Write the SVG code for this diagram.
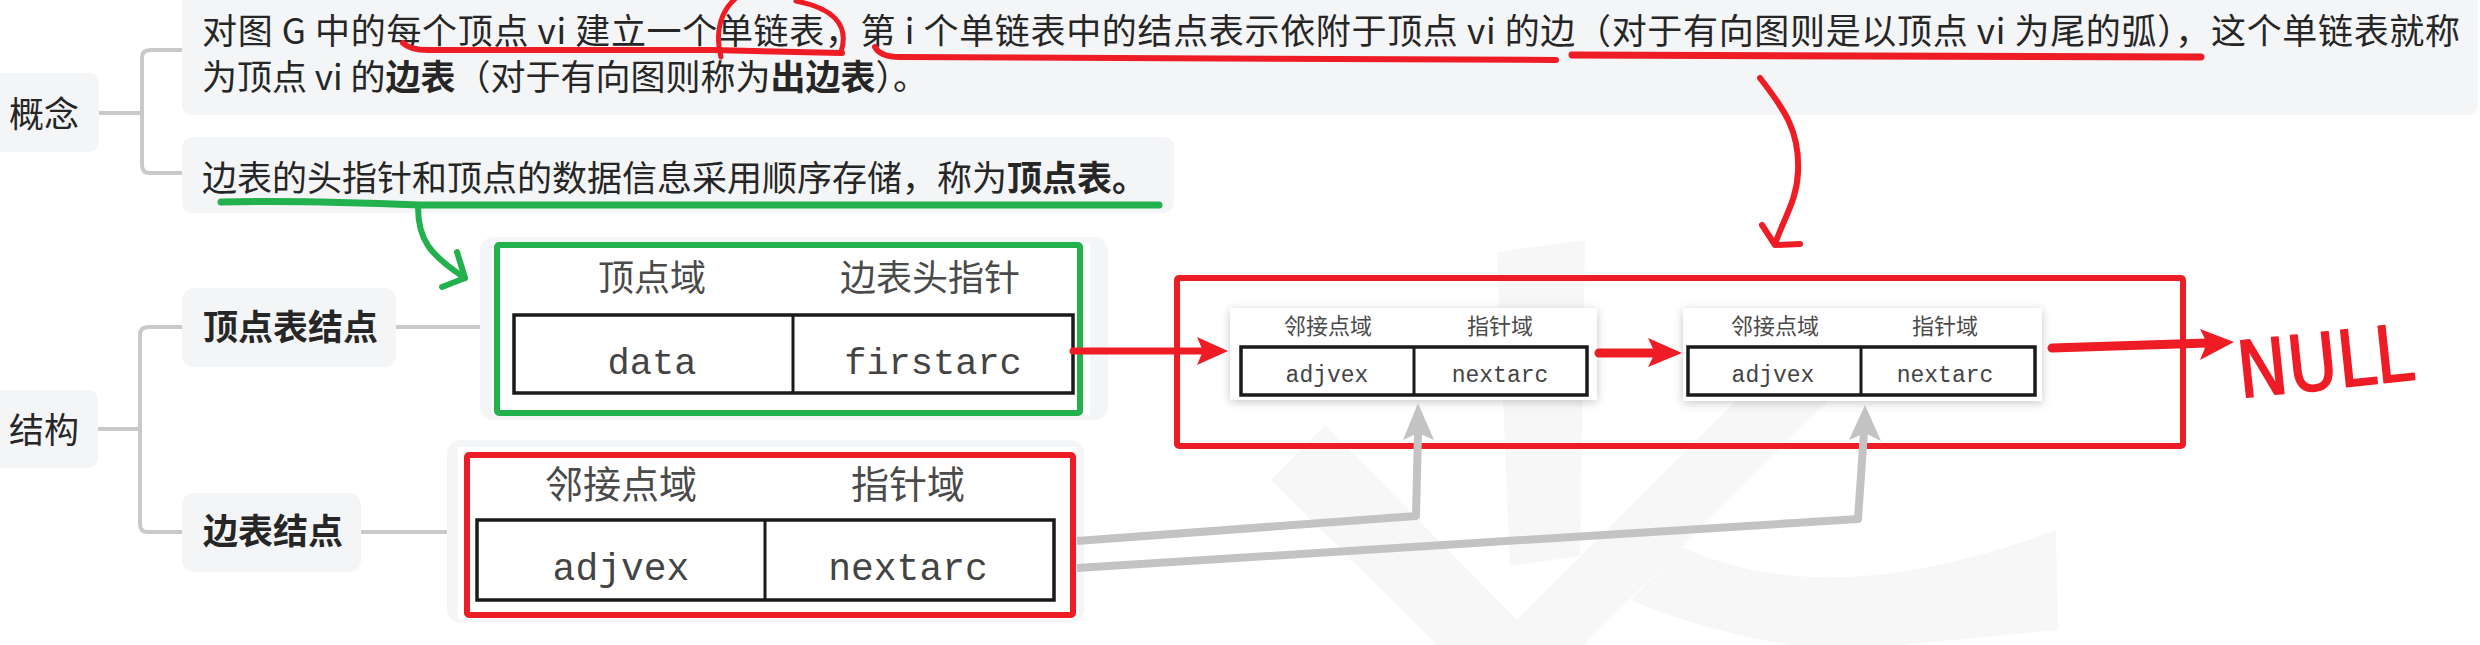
<svg xmlns="http://www.w3.org/2000/svg" width="2480" height="645" viewBox="0 0 2480 645">
<defs>
<style>
.bg{fill:#f4f5f7}
.t{font-family:"Noto Sans CJK SC","Noto Sans",sans-serif;fill:#262626;font-size:35px}
.b{font-weight:bold}
.hd{font-family:"Noto Sans CJK SC",sans-serif;fill:#4a4a4a;text-anchor:middle}
.mono{font-family:"Liberation Mono","DejaVu Sans Mono",monospace;fill:#444;text-anchor:middle}
.tbl{fill:#fff;stroke:#1a1a1a;stroke-width:3.5}
.div{stroke:#1a1a1a;stroke-width:3}
.br{fill:none;stroke:#c9c9c9;stroke-width:4}
.red{fill:none;stroke:#ee1c25;stroke-linecap:round;stroke-linejoin:round}
.redf{fill:#ee1c25}
.grn{fill:none;stroke:#22b14c;stroke-linecap:round;stroke-linejoin:round}
.gry{fill:none;stroke:#c3c3c3;stroke-width:8;stroke-linejoin:round}
.gryf{fill:#c3c3c3}
.wm{fill:#f7f7f7}
</style>
<filter id="sh" x="-10%" y="-20%" width="120%" height="150%">
<feDropShadow dx="0" dy="2" stdDeviation="5" flood-color="#000" flood-opacity="0.22"/>
</filter>
</defs>
<rect width="2480" height="645" fill="#ffffff"/>

<!-- watermark -->
<g id="watermark">
<path class="wm" d="M1497,252 L1585,240 L1580,556 L1510,566 Z"/>
<path class="wm" d="M1325,425 L1517,620 L1807,330 L1899,330 L1584,645 L1437,645 L1271,480 Z"/>
<path class="wm" d="M1682,547 Q1830,615 2056,530 L2058,630 L1900,645 L1790,645 Q1700,630 1631,600 Z"/>
</g>

<!-- concept -->
<g id="concept-label">
<rect class="bg" x="-12" y="73" width="111" height="79" rx="10"/>
<text class="t" x="44" y="127" text-anchor="middle">概念</text>
</g>
<g id="concept-text1">
<rect class="bg" x="182" y="-12" width="2296" height="127" rx="10"/>
<text class="t" x="202" y="44" textLength="2258" lengthAdjust="spacing">对图 G 中的每个顶点 vi 建立一个单链表，第 i 个单链表中的结点表示依附于顶点 vi 的边（对于有向图则是以顶点 vi 为尾的弧），这个单链表就称</text>
<text class="t" x="202" y="90">为顶点 vi 的<tspan class="b">边表</tspan>（对于有向图则称为<tspan class="b">出边表</tspan>）。</text>
</g>
<g id="concept-text2">
<rect class="bg" x="182" y="137" width="992" height="76" rx="10"/>
<text class="t" x="202" y="191">边表的头指针和顶点的数据信息采用顺序存储，称为<tspan class="b">顶点表。</tspan></text>
</g>

<!-- structure -->
<g id="structure-label">
<rect class="bg" x="-12" y="390" width="110" height="78" rx="10"/>
<text class="t" x="44" y="443" text-anchor="middle">结构</text>
</g>
<g id="vertex-node-label">
<rect class="bg" x="182" y="288" width="214" height="79" rx="12"/>
<text class="t b" x="203" y="340">顶点表结点</text>
</g>
<g id="edge-node-label">
<rect class="bg" x="182" y="493" width="179" height="79" rx="12"/>
<text class="t b" x="203" y="544">边表结点</text>
</g>

<g id="vertex-table">
<rect class="bg" x="480" y="237" width="628" height="183" rx="14"/>
<rect x="492" y="243" width="598" height="172" fill="#fff"/>
<text class="hd" x="652" y="291" font-size="36">顶点域</text>
<text class="hd" x="930" y="291" font-size="36">边表头指针</text>
<rect class="tbl" x="514" y="315" width="559" height="78"/>
<line class="div" x1="793" y1="315" x2="793" y2="393"/>
<text class="mono" x="652" y="374" font-size="37">data</text>
<text class="mono" x="933" y="374" font-size="37">firstarc</text>
<rect x="497" y="245" width="583" height="168" fill="none" stroke="#22b14c" stroke-width="6" rx="2"/>
</g>

<g id="edge-table">
<rect class="bg" x="447" y="440" width="637" height="183" rx="14"/>
<rect x="458" y="447" width="618" height="172" fill="#fff"/>
<text class="hd" x="621" y="498" font-size="38">邻接点域</text>
<text class="hd" x="908" y="498" font-size="38">指针域</text>
<rect class="tbl" x="477" y="520" width="577" height="80"/>
<line class="div" x1="765" y1="520" x2="765" y2="600"/>
<text class="mono" x="621" y="580" font-size="38">adjvex</text>
<text class="mono" x="908" y="580" font-size="38">nextarc</text>
<rect x="467" y="455" width="606" height="160" fill="none" stroke="#ee1c25" stroke-width="6" rx="2"/>
</g>

<g id="list-container">
<rect x="1177" y="278" width="1006" height="168" fill="none" stroke="#ee1c25" stroke-width="6" rx="2"/>
</g>

<g id="list-node-1">
<rect x="1230" y="308" width="367" height="92" fill="#fff" filter="url(#sh)"/>
<text class="hd" x="1328" y="334" font-size="22">邻接点域</text>
<text class="hd" x="1500" y="334" font-size="22">指针域</text>
<rect class="tbl" x="1241" y="347" width="346" height="48" stroke-width="2.5"/>
<line class="div" x1="1414" y1="347" x2="1414" y2="395" stroke-width="2"/>
<text class="mono" x="1327" y="382" font-size="23">adjvex</text>
<text class="mono" x="1500" y="382" font-size="23">nextarc</text>
</g>

<g id="list-node-2">
<rect x="1683" y="308" width="359" height="93" fill="#fff" filter="url(#sh)"/>
<text class="hd" x="1775" y="334" font-size="22">邻接点域</text>
<text class="hd" x="1945" y="334" font-size="22">指针域</text>
<rect class="tbl" x="1688" y="347" width="347" height="48" stroke-width="2.5"/>
<line class="div" x1="1861" y1="347" x2="1861" y2="395" stroke-width="2"/>
<text class="mono" x="1773" y="382" font-size="23">adjvex</text>
<text class="mono" x="1945" y="382" font-size="23">nextarc</text>
</g>

<g id="null-label">
<text x="2240" y="398" font-family="'DejaVu Sans Condensed','DejaVu Sans',sans-serif" font-size="78" fill="#ee1c25" stroke="#ee1c25" stroke-width="1.5" stroke-linejoin="round" textLength="176" lengthAdjust="spacingAndGlyphs" transform="rotate(-6 2240 398)">NULL</text>
</g>

<g id="connectors">
<!-- mind map brackets -->
<path class="br" d="M99,113 H142 M182,50 H150 Q142,50 142,58 V165 Q142,173 150,173 H182"/>
<path class="br" d="M98,429 H140 M182,327 H148 Q140,327 140,335 V524 Q140,532 148,532 H182"/>
<path class="br" d="M396,327 H480 M361,532 H447"/>

<!-- red annotations -->
<path class="red" stroke-width="6" d="M403,43 Q410,50 428,50 L712,50 L842,53"/>
<path class="red" stroke-width="5" d="M736,-2 C722,10 714,30 721,57"/>
<path class="red" stroke-width="5" d="M796,1 C832,8 850,24 841,52"/>
<path class="red" stroke-width="6" d="M875,47 Q880,57 900,57 L1556,60"/>
<path class="red" stroke-width="7" d="M1572,55 L2201,57"/>
<path class="red" stroke-width="6" d="M1760,78 C1785,110 1800,132 1798,172 C1797,200 1784,218 1775,244"/>
<path class="red" stroke-width="6" d="M1762,225 L1775,245 L1800,244"/>

<!-- green annotations -->
<path class="grn" stroke-width="7" d="M221,202 Q300,200 420,205 L1159,205"/>
<path class="grn" stroke-width="6" d="M418,207 C418,240 430,255 465,278"/>
<path class="grn" stroke-width="6" d="M457,252 L465,278 L442,287"/>

<!-- red arrows -->
<line class="red" stroke-width="7" x1="1073" y1="351" x2="1205" y2="351"/>
<polygon class="redf" points="1197,337 1228,351 1197,365 1203,351"/>
<line class="red" stroke-width="9" x1="1599" y1="353" x2="1655" y2="353"/>
<polygon class="redf" points="1648,338 1682,353 1648,367 1655,353"/>
<line class="red" stroke-width="9" x1="2052" y1="348" x2="2208" y2="343"/>
<polygon class="redf" points="2200,329 2234,342 2200,360 2207,343"/>

<!-- gray arrows -->
<polyline class="gry" points="1077,541 1416,516 1418,432"/>
<polygon class="gryf" points="1403,440 1418,403 1434,440 1418,433"/>
<polyline class="gry" points="1077,568 1858,519 1864,432"/>
<polygon class="gryf" points="1849,440 1865,405 1881,441 1865,433"/>
</g>
</svg>
